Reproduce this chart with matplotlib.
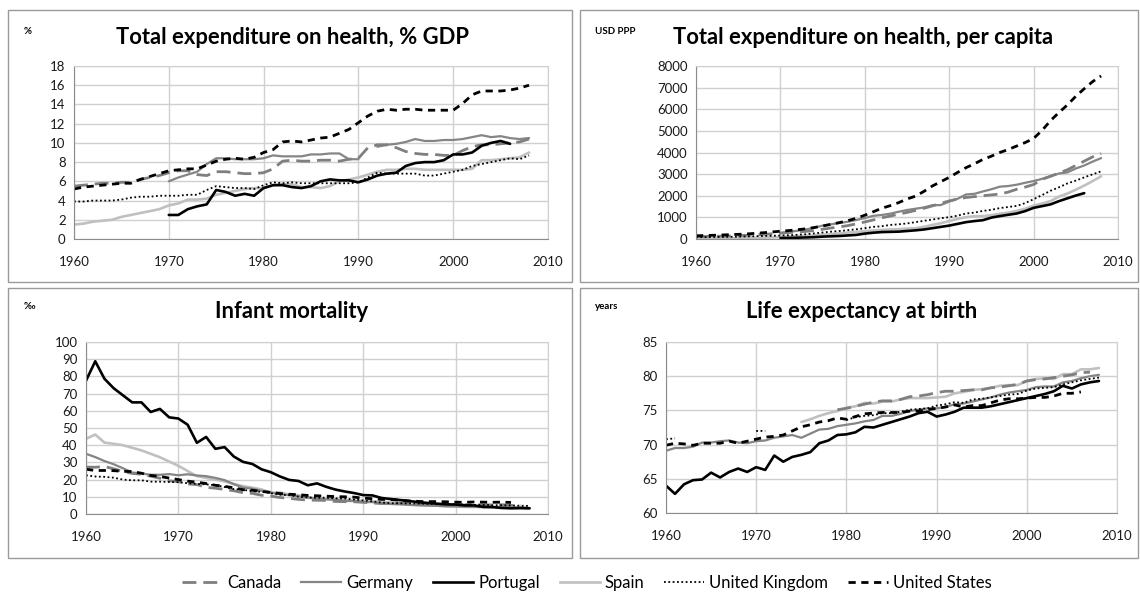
import numpy as np
import matplotlib
matplotlib.use("Agg")
import matplotlib.pyplot as plt
from matplotlib.patches import Rectangle
from matplotlib.lines import Line2D

nan = np.nan
years = list(range(1960, 2009))
countries = ["Canada", "Germany", "Portugal", "Spain", "United Kingdom", "United States"]

# ---- Total expenditure on health, % GDP ----
gdp_canada = [5.5,5.6,5.7,5.8,5.8,5.9,5.9,6.2,6.4,6.6, 6.9,7.1,7.1,6.7,6.6,7.0,7.0,6.9,6.8,6.8,
              6.9,7.3,8.1,8.2,8.1,8.1,8.2,8.2,8.1,8.3, 8.4,9.5,9.8,9.8,9.5,9.1,8.9,8.8,8.8,8.7,
              8.7,9.2,9.6,9.8,9.8,9.9,10.0,10.1,10.4]
gdp_germany = [nan]*10 + [6.0,6.4,6.7,7.0,7.8,8.4,8.4,8.3,8.3,8.3,
               8.4,8.7,8.6,8.6,8.6,8.8,8.8,8.9,8.9,8.3, 8.3,nan,9.6,9.8,9.9,10.1,10.4,10.2,10.2,10.3,
               10.3,10.4,10.6,10.8,10.6,10.7,10.5,10.4,10.5]
gdp_portugal = [nan]*10 + [2.5,2.5,3.1,3.4,3.6,5.1,4.9,4.5,4.7,4.5,
                5.3,5.6,5.6,5.4,5.3,5.5,6.0,6.2,6.1,6.1, 5.9,6.2,6.6,6.8,6.9,7.6,7.9,8.0,8.0,8.2,
                8.8,8.8,9.0,9.7,10.0,10.2,9.9,nan,nan]
gdp_spain = [1.5,1.6,1.8,1.9,2.0,2.3,2.5,2.7,2.9,3.1, 3.5,3.7,4.1,4.1,4.2,4.6,4.8,5.0,5.2,5.3,
             5.3,5.6,5.7,5.7,5.4,5.4,5.3,5.5,6.0,6.2, 6.4,6.7,7.0,7.2,7.2,7.3,7.3,7.2,7.2,7.2,
             7.2,7.2,7.3,8.2,8.2,8.3,8.4,8.5,9.0]
gdp_uk = [3.9,3.9,4.0,4.0,4.0,4.1,4.3,4.4,4.4,4.5, 4.5,4.5,4.6,4.6,5.1,5.5,5.4,5.3,5.3,5.2,
          5.6,5.9,5.8,5.9,5.8,5.8,5.8,5.8,5.8,5.8, 5.9,6.4,6.9,6.8,6.8,6.8,6.8,6.6,6.6,6.8,
          7.0,7.2,7.6,7.8,8.0,8.2,8.4,8.3,8.7]
gdp_us = [5.2,5.4,5.5,5.6,5.7,5.8,5.8,6.2,6.5,6.8, 7.1,7.2,7.3,7.3,7.7,8.1,8.3,8.4,8.3,8.5,
          9.0,9.3,10.1,10.2,10.1,10.3,10.5,10.6,11.0,11.4, 12.1,12.8,13.3,13.5,13.4,13.5,13.5,13.4,13.4,13.4,
          13.4,14.1,15.0,15.4,15.4,15.4,15.5,15.7,16.0]

# ---- Total expenditure on health, per capita (USD PPP) ----
pc_canada = [110,115,123,130,140,155,170,190,215,240, 270,300,325,350,390,450,510,560,620,700,
             790,880,980,1060,1150,1230,1320,1420,1530,1650, 1760,1850,1920,1960,2000,2040,2080,2170,2300,2400,
             2520,2760,2900,3050,3200,3400,3600,3800,3950]
pc_germany = [nan]*10 + [280,330,380,440,520,620,680,740,800,880,
              970,1070,1110,1170,1260,1340,1400,1460,1560,1570, 1730,1860,2060,2090,2200,2300,2420,2450,2510,2600,
              2680,2780,2900,3030,3080,3260,3400,3580,3740]
pc_portugal = [nan]*10 + [45,50,60,70,85,110,125,140,165,190,
               250,290,320,330,340,370,400,440,500,560, 620,700,780,830,870,990,1060,1120,1180,1290,
               1440,1520,1600,1750,1880,2010,2120,nan,nan]
pc_spain = [20,22,25,30,35,40,48,55,63,75, 95,110,130,150,170,200,230,260,300,330,
            360,390,420,440,450,480,500,560,650,730, 830,930,1010,1050,1060,1100,1170,1220,1300,1400,
            1540,1640,1750,1960,2100,2280,2470,2680,2900]
pc_uk = [80,85,90,95,100,110,120,130,140,150, 160,175,195,220,260,300,340,370,410,450,
         500,560,590,650,680,720,780,840,900,960, 1010,1080,1180,1220,1300,1350,1430,1480,1530,1660,
         1840,2030,2230,2390,2570,2700,2850,2990,3130]
pc_us = [150,160,170,185,200,215,235,260,290,325, 360,390,430,470,530,600,680,760,850,960,
         1100,1260,1420,1540,1680,1850,1980,2200,2450,2650, 2850,3080,3300,3480,3680,3830,4000,4140,4300,4460,
         4650,5020,5470,5850,6200,6600,6950,7280,7540]

# ---- Infant mortality (per 1000) ----
im_canada = [27.3,27.2,27.6,26.3,24.7,23.6,23.1,22.0,20.8,19.3, 18.8,17.5,17.1,15.5,15.0,14.3,13.5,12.4,12.0,10.9,
             10.4,9.6,9.1,8.5,8.1,8.0,7.9,7.3,7.2,7.1, 6.8,6.4,6.1,6.3,6.3,6.1,5.6,5.5,5.3,5.3,
             5.3,5.2,5.4,5.3,5.3,5.4,5.0,5.1,nan]
im_germany = [35.0,33.1,30.8,28.9,26.6,24.1,23.6,22.8,22.8,23.2, 22.5,23.1,22.4,22.0,21.0,19.7,17.3,15.4,14.7,13.5,
              12.4,11.6,10.9,10.2,9.6,9.1,8.5,8.3,7.6,7.5, 7.0,6.9,6.2,5.8,5.6,5.3,5.0,4.9,4.7,4.5,
              4.4,4.3,4.2,4.2,4.1,3.9,3.8,3.9,3.5]
im_portugal = [77.5,88.8,78.6,73.1,69.0,64.9,64.9,59.3,61.1,56.2, 55.5,51.9,41.4,44.8,37.9,38.9,33.4,30.3,29.1,26.0,
               24.3,21.8,19.8,19.2,16.7,17.8,15.8,14.2,13.1,12.2, 11.0,10.8,9.3,8.7,8.1,7.5,6.9,6.4,6.0,5.6,
               5.5,5.0,5.0,4.1,4.0,3.5,3.3,3.4,3.3]
im_spain = [43.7,46.2,41.5,40.8,40.0,38.5,37.0,35.0,33.0,30.5, 28.0,25.0,22.0,21.0,20.0,19.0,17.5,16.2,15.3,14.3,
            12.3,12.5,11.3,10.9,9.5,8.9,8.7,8.5,8.1,7.8, 7.6,7.2,7.1,6.7,6.0,5.5,5.5,5.0,4.9,4.4,
            4.4,4.1,4.1,3.9,4.0,3.8,3.8,3.7,3.3]
im_uk = [22.5,21.8,21.6,21.1,20.0,19.6,19.6,18.8,18.8,18.6, 18.5,17.9,17.5,17.2,16.8,15.7,14.5,14.1,13.2,12.9,
         12.1,11.2,11.0,10.1,9.6,9.4,9.5,9.1,9.0,8.4, 7.9,7.4,6.6,6.3,6.2,6.2,6.1,5.9,5.7,5.8,
         5.6,5.5,5.3,5.3,5.1,5.1,5.0,4.8,4.7]
im_us = [26.0,25.3,25.3,25.2,24.8,24.7,23.7,22.4,21.8,20.9, 20.0,19.1,18.5,17.7,16.7,16.1,15.2,14.1,13.8,13.1,
         12.6,11.9,11.5,11.2,10.8,10.6,10.4,10.1,10.0,9.8, 9.2,8.9,8.5,8.4,8.0,7.6,7.3,7.2,7.2,7.1,
         6.9,6.8,7.0,6.9,6.8,6.9,6.7,nan,nan]

# ---- Life expectancy at birth (years) ----
le_canada = [nan]*19 + [75.1,
             75.3,75.6,75.9,76.2,76.4,76.4,76.6,77.0,77.1,77.3, 77.6,77.8,77.8,77.9,78.0,78.0,78.3,78.4,78.6,78.8,
             79.3,79.5,79.6,79.8,80.0,80.2,80.5,80.6,nan]
le_germany = [69.1,69.5,69.5,69.7,70.3,70.3,70.5,70.6,70.3,70.2, 70.5,70.6,71.0,71.2,71.4,71.0,71.6,72.2,72.3,72.7,
              72.9,73.1,73.4,73.6,74.2,74.2,74.5,74.9,75.1,75.3, 75.3,75.5,75.9,76.0,76.3,76.6,76.9,77.3,77.6,77.8,
              78.0,78.4,78.5,78.5,79.1,79.3,79.7,80.0,80.2]
le_portugal = [64.0,62.8,64.2,64.8,64.9,65.9,65.2,66.0,66.5,66.0, 66.7,66.3,68.4,67.5,68.2,68.5,68.9,70.2,70.6,71.4,
               71.5,71.8,72.6,72.5,72.9,73.3,73.7,74.1,74.6,74.8, 74.1,74.4,74.8,75.4,75.4,75.4,75.6,75.9,76.2,76.5,
               76.8,77.1,77.4,77.8,78.6,78.2,78.8,79.1,79.3]
le_spain = [nan]*15 + [73.3,73.7,74.2,74.6,74.9,
            75.4,75.6,76.1,76.0,76.3,76.3,76.6,76.8,76.8,76.8, 76.9,77.0,77.5,77.7,78.0,78.1,78.3,78.6,78.7,78.7,
            79.3,79.6,79.7,79.6,80.3,80.3,81.0,81.0,81.2]
le_uk = [70.8,70.9] + [nan]*8 + [72.0,72.0] + [nan]*8 + [
         73.6,74.0,74.2,74.3,74.6,74.6,74.8,75.1,75.2,75.3, 75.7,75.9,76.2,76.1,76.6,76.7,76.9,77.1,77.3,77.4,
         77.9,78.2,78.3,78.4,78.8,79.1,79.4,79.6,79.8]
le_us = [69.9,70.2,70.1,69.9,70.2,70.2,70.2,70.5,70.2,70.5, 70.8,71.1,71.2,71.4,72.0,72.6,72.9,73.3,73.5,73.9,
         73.7,74.1,74.5,74.6,74.7,74.7,74.7,74.9,74.9,75.1, 75.3,75.5,75.8,75.5,75.7,75.7,76.1,76.5,76.7,76.7,
         76.8,76.9,76.9,77.1,77.5,77.5,77.7,nan,nan]

# ---- styles ----
styles = {
    "Canada":         dict(color="#7f7f7f", lw=2.0, ls=(0, (5, 2.5))),
    "Germany":        dict(color="#858585", lw=1.6, ls="-"),
    "Portugal":       dict(color="#000000", lw=1.9, ls="-"),
    "Spain":          dict(color="#c0c0c0", lw=1.9, ls="-"),
    "United Kingdom": dict(color="#000000", lw=1.3, ls=(0, (1, 1.4))),
    "United States":  dict(color="#000000", lw=2.0, ls=(0, (2.6, 2.0))),
}

W, H = 1140, 592
fig = plt.figure(figsize=(W / 100, H / 100), dpi=100)
fig.patch.set_facecolor("white")
FONT = "Lato"

def fx(x): return x / W
def fy(y): return 1 - y / H

# panel frames
for (x0, y0, x1, y1) in [(8, 10, 572, 282), (580, 10, 1138, 282), (8, 288, 572, 558), (580, 288, 1138, 558)]:
    fig.add_artist(Rectangle((fx(x0), fy(y1)), fx(x1 - x0), (y1 - y0) / H, transform=fig.transFigure,
                             fill=False, edgecolor="#9a9a9a", lw=1.0))

panels = [
    dict(box=(74, 66, 548, 239), title="Total expenditure on health, % GDP", tpos=(293, 37), unit="%", upos=(24, 31),
         ylim=(0, 18), yticks=range(0, 19, 2),
         data=[gdp_canada, gdp_germany, gdp_portugal, gdp_spain, gdp_uk, gdp_us]),
    dict(box=(696, 66, 1118, 239), title="Total expenditure on health, per capita", tpos=(863, 37), unit="USD PPP", upos=(595, 31),
         ylim=(0, 8000), yticks=range(0, 8001, 1000),
         data=[pc_canada, pc_germany, pc_portugal, pc_spain, pc_uk, pc_us]),
    dict(box=(86, 342, 548, 514), title="Infant mortality", tpos=(292, 311), unit="‰", upos=(24, 307),
         ylim=(0, 100), yticks=range(0, 101, 10),
         data=[im_canada, im_germany, im_portugal, im_spain, im_uk, im_us]),
    dict(box=(666, 342, 1117, 513), title="Life expectancy at birth", tpos=(862, 311), unit="years", upos=(595, 307),
         ylim=(60, 85), yticks=range(60, 86, 5),
         data=[le_canada, le_germany, le_portugal, le_spain, le_uk, le_us]),
]

yr = np.array(years)
for p in panels:
    l, t, r, b = p["box"]
    ax = fig.add_axes([fx(l), fy(b), fx(r - l), (b - t) / H])
    order = ["Spain", "Germany", "Canada", "United Kingdom", "Portugal", "United States"]
    for name in order:
        vals = np.array(p["data"][countries.index(name)], dtype=float)
        st = styles[name]
        ax.plot(yr, vals, color=st["color"], lw=st["lw"], linestyle=st["ls"], solid_capstyle="round")
    ax.set_xlim(1960, 2010)
    ax.set_ylim(*p["ylim"])
    ax.set_xticks(range(1960, 2011, 10))
    ax.set_yticks(list(p["yticks"]))
    ax.grid(True, color="#d0d0d0", lw=1.0)
    ax.set_axisbelow(True)
    ax.tick_params(length=0, labelsize=9.5, colors="#1a1a1a", pad=6)
    for lab in ax.get_xticklabels() + ax.get_yticklabels():
        lab.set_fontfamily(FONT)
    ax.tick_params(axis="x", pad=12)
    for s in ["top", "right"]:
        ax.spines[s].set_color("#d0d0d0")
    for s in ["left", "bottom"]:
        ax.spines[s].set_color("#8c8c8c")
    fig.text(fx(p["tpos"][0]), fy(p["tpos"][1]), p["title"], ha="center", va="center",
             fontsize=15.8, fontweight="bold", family=FONT, color="#000000")
    fig.text(fx(p["upos"][0]), fy(p["upos"][1]), p["unit"], ha="left", va="center",
             fontsize=7, fontweight="bold", family=[FONT, "DejaVu Sans"], color="#000000")

handles = [Line2D([], [], color=styles[c]["color"], lw=styles[c]["lw"], linestyle=styles[c]["ls"]) for c in countries]
leg = fig.legend(handles, countries, loc="center", bbox_to_anchor=(fx(587), fy(583)), ncol=6, frameon=False,
                 prop=dict(family=FONT, size=12), handlelength=2.4, columnspacing=1.2, handletextpad=0.3)

fig.savefig("out.png", dpi=100, facecolor="white")
